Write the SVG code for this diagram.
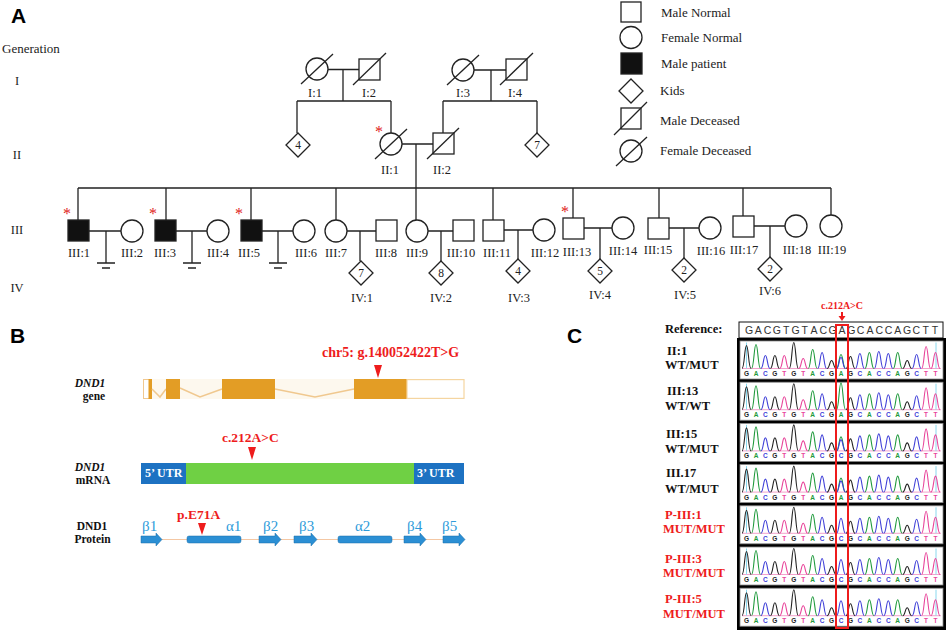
<svg xmlns="http://www.w3.org/2000/svg" width="948" height="633" viewBox="0 0 948 633">
<style>
.ln{stroke:#222;stroke-width:1.3;fill:none}
.sh{stroke:#222;stroke-width:1.3;fill:#fff}
.pt{stroke:#222;stroke-width:1.3;fill:#111}
.lb{font-family:"Liberation Serif",serif;font-size:12.5px;fill:#222;text-anchor:middle}
.gl{font-family:"Liberation Serif",serif;font-size:13px;fill:#222}
.num{font-family:"Liberation Serif",serif;font-size:11.5px;fill:#222;text-anchor:middle}
.ast{font-family:"Liberation Serif",serif;font-size:16px;fill:#e02020;text-anchor:middle}
.pan{font-family:"Liberation Sans",Arial,sans-serif;font-size:21px;font-weight:bold;fill:#000}
.bl{font-family:"Liberation Serif",serif;font-size:11.5px;font-weight:bold;fill:#111;text-anchor:middle}
.red{font-family:"Liberation Serif",serif;font-weight:bold;fill:#ee1c1c}
.utr{font-family:"Liberation Serif",serif;font-size:12px;font-weight:bold;fill:#fff}
.ss{font-family:"Liberation Serif",serif;font-size:15px;fill:#2e9bda}
.cl{font-family:"Liberation Serif",serif;font-size:12.5px;font-weight:bold;fill:#111}
.cr{font-family:"Liberation Serif",serif;font-size:12.5px;font-weight:bold;fill:#ee1c1c}
.G{fill:#222}.A{fill:#1f9a3c}.C{fill:#4040d8}.T{fill:#e8449a}
.pG{stroke:#222;fill:none;stroke-width:1.1}
.pA{stroke:#1f9a3c;fill:none;stroke-width:1.1}
.pC{stroke:#4040d8;fill:none;stroke-width:1.1}
.pT{stroke:#e8449a;fill:none;stroke-width:1.1}
.seq{font-family:"Liberation Sans",Arial,sans-serif;font-size:6.5px;font-weight:bold}
.arr{fill:#2b8fd4;stroke:#1b6ea8;stroke-width:0.5}
</style>
<defs>
<g id="chroma">
<line x1="742" y1="0" x2="941" y2="0" stroke="#e8449a" stroke-width="0.7" opacity="0.7"/>
<line x1="746.5" y1="-26" x2="746.5" y2="0" stroke="#8ad8ee" stroke-width="1"/>
<line x1="936" y1="-26" x2="936" y2="0" stroke="#8ad8ee" stroke-width="1"/>
<path class="pG" d="M742 0C744.5 0 744.5-23 746.5-23C748.5-23 748.5 0 751 0M770.4 0C772.9 0 772.9-13 774.9-13C776.9-13 776.9 0 779.4 0M789.3 0C791.8 0 791.8-26 793.8-26C795.8-26 795.8 0 798.3 0M827.1 0C829.6 0 829.6-8 831.6-8C833.6-8 833.6 0 836.1 0M846 0C848.5 0 848.5-12 850.5-12C852.5-12 852.5 0 855 0M902.7 0C905.2 0 905.2-8 907.2-8C909.2-8 909.2 0 911.7 0"/>
<path class="pA" d="M751.5 0C754 0 754-24 756-24C758-24 758 0 760.5 0M808.2 0C810.7 0 810.7-19 812.7-19C814.7-19 814.7 0 817.2 0M864.9 0C867.4 0 867.4-16 869.4-16C871.4-16 871.4 0 873.9 0M893.2 0C895.7 0 895.7-16 897.7-16C899.7-16 899.7 0 902.2 0"/>
<path class="pC" d="M760.9 0C763.4 0 763.4-13 765.4-13C767.4-13 767.4 0 769.9 0M817.6 0C820.1 0 820.1-16 822.1-16C824.1-16 824.1 0 826.6 0M855.4 0C857.9 0 857.9-15 859.9-15C861.9-15 861.9 0 864.4 0M874.3 0C876.8 0 876.8-17 878.8-17C880.8-17 880.8 0 883.3 0M883.8 0C886.3 0 886.3-15 888.3-15C890.3-15 890.3 0 892.8 0M912.1 0C914.6 0 914.6-14 916.6-14C918.6-14 918.6 0 921.1 0"/>
<path class="pT" d="M779.8 0C782.3 0 782.3-13 784.3-13C786.3-13 786.3 0 788.8 0M798.7 0C801.2 0 801.2-10 803.2-10C805.2-10 805.2 0 807.7 0M921.6 0C924.1 0 924.1-22 926.1-22C928.1-22 928.1 0 930.6 0M931 0C933.5 0 933.5-16 935.5-16C937.5-16 937.5 0 940 0"/>
<text class="seq" y="7.5" text-anchor="middle"><tspan x="746.5" class="G">G</tspan><tspan x="756" class="A">A</tspan><tspan x="765.4" class="C">C</tspan><tspan x="774.9" class="G">G</tspan><tspan x="784.3" class="T">T</tspan><tspan x="793.8" class="G">G</tspan><tspan x="803.2" class="T">T</tspan><tspan x="812.7" class="A">A</tspan><tspan x="822.1" class="C">C</tspan><tspan x="831.6" class="G">G</tspan><tspan x="850.5" class="G">G</tspan><tspan x="859.9" class="C">C</tspan><tspan x="869.4" class="A">A</tspan><tspan x="878.8" class="C">C</tspan><tspan x="888.3" class="C">C</tspan><tspan x="897.7" class="A">A</tspan><tspan x="907.2" class="G">G</tspan><tspan x="916.6" class="C">C</tspan><tspan x="926.1" class="T">T</tspan><tspan x="935.5" class="T">T</tspan></text>
</g>
<g id="het"><path class="pA" d="M836.5 0C839 0 839-14 841-14C843-14 843 0 845.5 0"/><path class="pC" d="M836.5 0C839 0 839-11 841-11C843-11 843 0 845.5 0"/></g>
<g id="wt"><path class="pA" d="M836.5 0C839 0 839-27 841-27C843-27 843 0 845.5 0"/></g>
<g id="mut"><path class="pC" d="M836.5 0C839 0 839-15 841-15C843-15 843 0 845.5 0"/></g>
</defs>
<rect width="948" height="633" fill="#fff"/>

<!-- Panel A -->
<text class="pan" x="11" y="23">A</text>
<g id="gen-labels">
<text class="gl" x="2" y="53">Generation</text>
<text class="lb" x="17" y="85">I</text>
<text class="lb" x="17" y="159">II</text>
<text class="lb" x="17" y="234">III</text>
<text class="lb" x="17" y="292">IV</text>
</g>

<g id="connectors">
<path class="ln" d="M328 69.5H359M343 69.5V101M297 101H391M297 101V133M391 101V133"/>
<path class="ln" d="M474 70H506M491 70V101M443 101H537M443 101V133M537 101V133"/>
<path class="ln" d="M402 144H433M416 144V220"/>
<path class="ln" d="M78 188H831M78 188V220M166 188V220M251 188V220M336 188V220M493 188V220M573 188V218M659 188V218M743 188V216M831 188V215"/>
<path class="ln" d="M89 231H121M106 231V263M97 263H115M102 268H110"/>
<path class="ln" d="M176 231H207M192 231V263M183 263H201M188 268H196"/>
<path class="ln" d="M262 231H293M278 231V263M269 263H287M274 268H282"/>
<path class="ln" d="M347 231H376M360 231V261"/>
<path class="ln" d="M428 231H453M441 231V261"/>
<path class="ln" d="M504 230H533M518 230V259"/>
<path class="ln" d="M584 228H612M600 228V259"/>
<path class="ln" d="M669 228H699M684 228V258"/>
<path class="ln" d="M754 226H785M770 226V257"/>
</g>

<g id="I1"><circle class="sh" cx="317" cy="69" r="11"/><line class="ln" x1="301" y1="84" x2="333" y2="54"/><text class="lb" x="315" y="97">I:1</text></g>
<g id="I2"><rect class="sh" x="359" y="59" width="21" height="21"/><line class="ln" x1="353" y1="85" x2="386" y2="53"/><text class="lb" x="369" y="97">I:2</text></g>
<g id="I3"><circle class="sh" cx="463" cy="70" r="11"/><line class="ln" x1="447" y1="85" x2="479" y2="55"/><text class="lb" x="463" y="97">I:3</text></g>
<g id="I4"><rect class="sh" x="506" y="59" width="21" height="21"/><line class="ln" x1="500" y1="85" x2="533" y2="53"/><text class="lb" x="515" y="97">I:4</text></g>

<g id="II-kids4"><polygon class="sh" points="298,133 310,145 298,157 286,145"/><text class="num" x="298" y="149">4</text></g>
<g id="II1"><circle class="sh" cx="391" cy="144" r="11"/><line class="ln" x1="375" y1="159" x2="407" y2="129"/><text class="ast" x="379" y="136.5">*</text><text class="lb" x="390" y="174">II:1</text></g>
<g id="II2"><rect class="sh" x="433" y="133" width="21" height="21"/><line class="ln" x1="427" y1="159" x2="459" y2="128"/><text class="lb" x="442" y="174">II:2</text></g>
<g id="II-kids7"><polygon class="sh" points="537,133 549,145 537,157 525,145"/><text class="num" x="537" y="149">7</text></g>

<g id="III1"><rect class="pt" x="68" y="220" width="21" height="21"/><text class="ast" x="67" y="219">*</text><text class="lb" x="79" y="257">III:1</text></g>
<g id="III2"><circle class="sh" cx="132" cy="231" r="11"/><text class="lb" x="132" y="257">III:2</text></g>
<g id="III3"><rect class="pt" x="155" y="220" width="21" height="21"/><text class="ast" x="153" y="219">*</text><text class="lb" x="165" y="257">III:3</text></g>
<g id="III4"><circle class="sh" cx="218" cy="231" r="11"/><text class="lb" x="218" y="257">III:4</text></g>
<g id="III5"><rect class="pt" x="241" y="220" width="21" height="21"/><text class="ast" x="239" y="219">*</text><text class="lb" x="249" y="257">III:5</text></g>
<g id="III6"><circle class="sh" cx="304" cy="231" r="11"/><text class="lb" x="306" y="257">III:6</text></g>
<g id="III7"><circle class="sh" cx="336" cy="231" r="11"/><text class="lb" x="336" y="257">III:7</text></g>
<g id="III8"><rect class="sh" x="376" y="220" width="21" height="21"/><text class="lb" x="386" y="257">III:8</text></g>
<g id="III9"><circle class="sh" cx="417" cy="231" r="11"/><text class="lb" x="417" y="257">III:9</text></g>
<g id="III10"><rect class="sh" x="453" y="220" width="21" height="21"/><text class="lb" x="461" y="257">III:10</text></g>
<g id="III11"><rect class="sh" x="483" y="220" width="21" height="21"/><text class="lb" x="497" y="257">III:11</text></g>
<g id="III12"><circle class="sh" cx="544" cy="230" r="11"/><text class="lb" x="545" y="257">III:12</text></g>
<g id="III13"><rect class="sh" x="563" y="218" width="21" height="21"/><text class="ast" x="565" y="217">*</text><text class="lb" x="577" y="256">III:13</text></g>
<g id="III14"><circle class="sh" cx="623" cy="228" r="11"/><text class="lb" x="623" y="255">III:14</text></g>
<g id="III15"><rect class="sh" x="648" y="218" width="21" height="21"/><text class="lb" x="658" y="254">III:15</text></g>
<g id="III16"><circle class="sh" cx="710" cy="228" r="11"/><text class="lb" x="711" y="255">III:16</text></g>
<g id="III17"><rect class="sh" x="733" y="216" width="21" height="21"/><text class="lb" x="744" y="254">III:17</text></g>
<g id="III18"><circle class="sh" cx="796" cy="226" r="11"/><text class="lb" x="797" y="254">III:18</text></g>
<g id="III19"><circle class="sh" cx="831" cy="226" r="11"/><text class="lb" x="832" y="254">III:19</text></g>

<g id="IV1"><polygon class="sh" points="361,261 373,273 361,285 349,273"/><text class="num" x="361" y="277">7</text><text class="lb" x="362" y="302">IV:1</text></g>
<g id="IV2"><polygon class="sh" points="441,261 453,273 441,285 429,273"/><text class="num" x="441" y="277">8</text><text class="lb" x="441" y="302">IV:2</text></g>
<g id="IV3"><polygon class="sh" points="518,259 530,271 518,283 506,271"/><text class="num" x="518" y="275">4</text><text class="lb" x="519" y="302">IV:3</text></g>
<g id="IV4"><polygon class="sh" points="600,259 612,271 600,283 588,271"/><text class="num" x="600" y="275">5</text><text class="lb" x="600" y="299">IV:4</text></g>
<g id="IV5"><polygon class="sh" points="684,258 696,270 684,282 672,270"/><text class="num" x="684" y="274">2</text><text class="lb" x="685" y="299">IV:5</text></g>
<g id="IV6"><polygon class="sh" points="770,257 782,269 770,281 758,269"/><text class="num" x="770" y="273">2</text><text class="lb" x="770" y="295">IV:6</text></g>

<g id="legend">
<rect class="sh" x="621" y="2" width="20" height="20"/><text class="gl" x="661" y="17">Male Normal</text>
<circle class="sh" cx="631" cy="37.5" r="11"/><text class="gl" x="661" y="42">Female Normal</text>
<rect class="pt" x="621" y="53" width="21" height="21"/><text class="gl" x="661" y="68">Male patient</text>
<polygon class="sh" points="631,79 643,91 631,103 619,91"/><text class="gl" x="660" y="95">Kids</text>
<rect class="sh" x="621" y="108" width="20" height="21"/><line class="ln" x1="614" y1="135" x2="647" y2="102"/><text class="gl" x="660" y="125">Male Deceased</text>
<circle class="sh" cx="631" cy="151" r="11"/><line class="ln" x1="616" y1="166" x2="647" y2="137"/><text class="gl" x="660" y="155">Female Deceased</text>
</g>

<!-- Panel B -->
<text class="pan" x="10" y="343">B</text>
<g id="gene">
<text class="bl" x="90" y="387" font-style="italic">DND1</text>
<text class="bl" x="94" y="400">gene</text>
<rect x="143" y="379" width="321" height="20" fill="#fdf8ee"/>
<rect x="143.5" y="379.5" width="8" height="19" fill="#fff" stroke="#f0c890" stroke-width="1"/>
<rect x="148.5" y="379" width="3.5" height="20" fill="#e39d25"/>
<polyline points="152,389 160,397 166,389" fill="none" stroke="#f0c88f" stroke-width="1.5"/>
<polyline points="180,388 200,397 222,389" fill="none" stroke="#f0c88f" stroke-width="1.5"/>
<polyline points="275,389 315,397 354,389" fill="none" stroke="#f0c88f" stroke-width="1.5"/>
<rect x="166" y="379" width="14" height="20" fill="#e39d25"/>
<rect x="222" y="379" width="53" height="20" fill="#e39d25"/>
<rect x="354" y="379" width="53" height="20" fill="#e39d25"/>
<rect x="407" y="379.6" width="57" height="18.8" fill="#fff" stroke="#f5d5a0" stroke-width="1.2"/>
<text class="red" x="322" y="357" font-size="14">chr5: g.140052422T&gt;G</text>
<polygon points="374,365 382,365 378,378" fill="#ee1c1c"/>
</g>
<g id="mrna">
<text class="bl" x="90" y="471" font-style="italic">DND1</text>
<text class="bl" x="93" y="484">mRNA</text>
<rect x="141" y="463" width="45" height="21" fill="#1d72c2"/>
<rect x="186" y="463" width="228" height="21" fill="#6fd044"/>
<rect x="414" y="463" width="50" height="21" fill="#1d72c2"/>
<text class="utr" x="145" y="477">5’ UTR</text>
<text class="utr" x="417" y="477">3’ UTR</text>
<text class="red" x="222" y="442" font-size="13.5">c.212A&gt;C</text>
<polygon points="248,447 256,447 252,460" fill="#ee1c1c"/>
</g>
<g id="protein">
<text class="bl" x="92" y="530">DND1</text>
<text class="bl" x="92.5" y="543">Protein</text>
<line x1="141" y1="539.5" x2="465" y2="539.5" stroke="#f4c7a3" stroke-width="1"/>
<path class="arr" d="M141 536H156V533L162 539.5L156 546V543H141Z"/>
<path class="arr" d="M259 536H275V533L281 539.5L275 546V543H259Z"/>
<path class="arr" d="M294 536H311V533L317 539.5L311 546V543H294Z"/>
<path class="arr" d="M404 536H420V533L426 539.5L420 546V543H404Z"/>
<path class="arr" d="M443 536H459V533L465 539.5L459 546V543H443Z"/>
<rect class="arr" x="187" y="536" width="54" height="7" rx="2"/>
<rect class="arr" x="338" y="536" width="54" height="7" rx="2"/>
<text class="ss" x="142" y="531">β1</text>
<text class="ss" x="226" y="531">α1</text>
<text class="ss" x="263" y="531">β2</text>
<text class="ss" x="299" y="531">β3</text>
<text class="ss" x="355" y="531">α2</text>
<text class="ss" x="407" y="531">β4</text>
<text class="ss" x="442" y="531">β5</text>
<text class="red" x="177" y="519" font-size="13.5">p.E71A</text>
<polygon points="198,523 206,523 202,535" fill="#ee1c1c"/>
</g>

<!-- Panel C -->
<text class="pan" x="567" y="343">C</text>
<g id="seq-ref">
<text class="cl" x="665" y="333">Reference:</text>
<rect x="739" y="322" width="204" height="16" fill="#fff" stroke="#111" stroke-width="1"/>
<text x="749 758.3 767.6 776.9 786.2 795.5 804.8 814.1 823.4 832.7 842 851.3 860.6 869.9 879.2 888.5 897.8 907.1 916.4 925.7 935" y="334" font-family="'Liberation Sans',Arial,sans-serif" font-size="10.5" fill="#333" text-anchor="middle">GACGTGTACGAGCACCAGCTT</text>
<text class="red" x="842" y="309" font-size="10" text-anchor="middle">c.212A&gt;C</text>
<path d="M842 312V317" stroke="#ee1c1c" stroke-width="2"/>
<polygon points="838.5,316 845.5,316 842,321" fill="#ee1c1c"/>
</g>
<g id="chromatograms">
<rect x="737" y="338" width="209" height="292" fill="#000"/>
<rect x="740" y="341" width="203" height="38" fill="#fff" stroke="#8a8a8a" stroke-width="0.8"/>
<rect x="740" y="382.2" width="203" height="38" fill="#fff" stroke="#8a8a8a" stroke-width="0.8"/>
<rect x="740" y="423.4" width="203" height="38" fill="#fff" stroke="#8a8a8a" stroke-width="0.8"/>
<rect x="740" y="464.6" width="203" height="38" fill="#fff" stroke="#8a8a8a" stroke-width="0.8"/>
<rect x="740" y="505.8" width="203" height="38" fill="#fff" stroke="#8a8a8a" stroke-width="0.8"/>
<rect x="740" y="547" width="203" height="38" fill="#fff" stroke="#8a8a8a" stroke-width="0.8"/>
<rect x="740" y="588.2" width="203" height="38" fill="#fff" stroke="#8a8a8a" stroke-width="0.8"/>
<g transform="translate(0,368.5)"><use href="#chroma"/><use href="#het"/><text class="seq A" x="841" y="7.5" text-anchor="middle">A</text></g>
<g transform="translate(0,409.7)"><use href="#chroma"/><use href="#wt"/><text class="seq A" x="841" y="7.5" text-anchor="middle">A</text></g>
<g transform="translate(0,450.9)"><use href="#chroma"/><use href="#het"/><text class="seq C" x="841" y="7.5" text-anchor="middle">C</text></g>
<g transform="translate(0,492.1)"><use href="#chroma"/><use href="#het"/><text class="seq A" x="841" y="7.5" text-anchor="middle">A</text></g>
<g transform="translate(0,533.3)"><use href="#chroma"/><use href="#mut"/><text class="seq C" x="841" y="7.5" text-anchor="middle">C</text></g>
<g transform="translate(0,574.5)"><use href="#chroma"/><use href="#mut"/><text class="seq C" x="841" y="7.5" text-anchor="middle">C</text></g>
<g transform="translate(0,615.7)"><use href="#chroma"/><use href="#mut"/><text class="seq C" x="841" y="7.5" text-anchor="middle">C</text></g>
<rect x="836" y="325" width="12" height="303" fill="none" stroke="#ee1c1c" stroke-width="2"/>
</g>
<g id="sample-labels">
<text class="cl" x="667" y="355">II:1</text><text class="cl" x="665" y="369">WT/MUT</text>
<text class="cl" x="667" y="395">III:13</text><text class="cl" x="665" y="410">WT/WT</text>
<text class="cl" x="666" y="438">III:15</text><text class="cl" x="665" y="453">WT/MUT</text>
<text class="cl" x="666" y="477">III.17</text><text class="cl" x="665" y="493">WT/MUT</text>
<text class="cr" x="665" y="519">P-III:1</text><text class="cr" x="663" y="533">MUT/MUT</text>
<text class="cr" x="665" y="563">P-III:3</text><text class="cr" x="663" y="577">MUT/MUT</text>
<text class="cr" x="665" y="603">P-III:5</text><text class="cr" x="663" y="618">MUT/MUT</text>
</g>
</svg>
